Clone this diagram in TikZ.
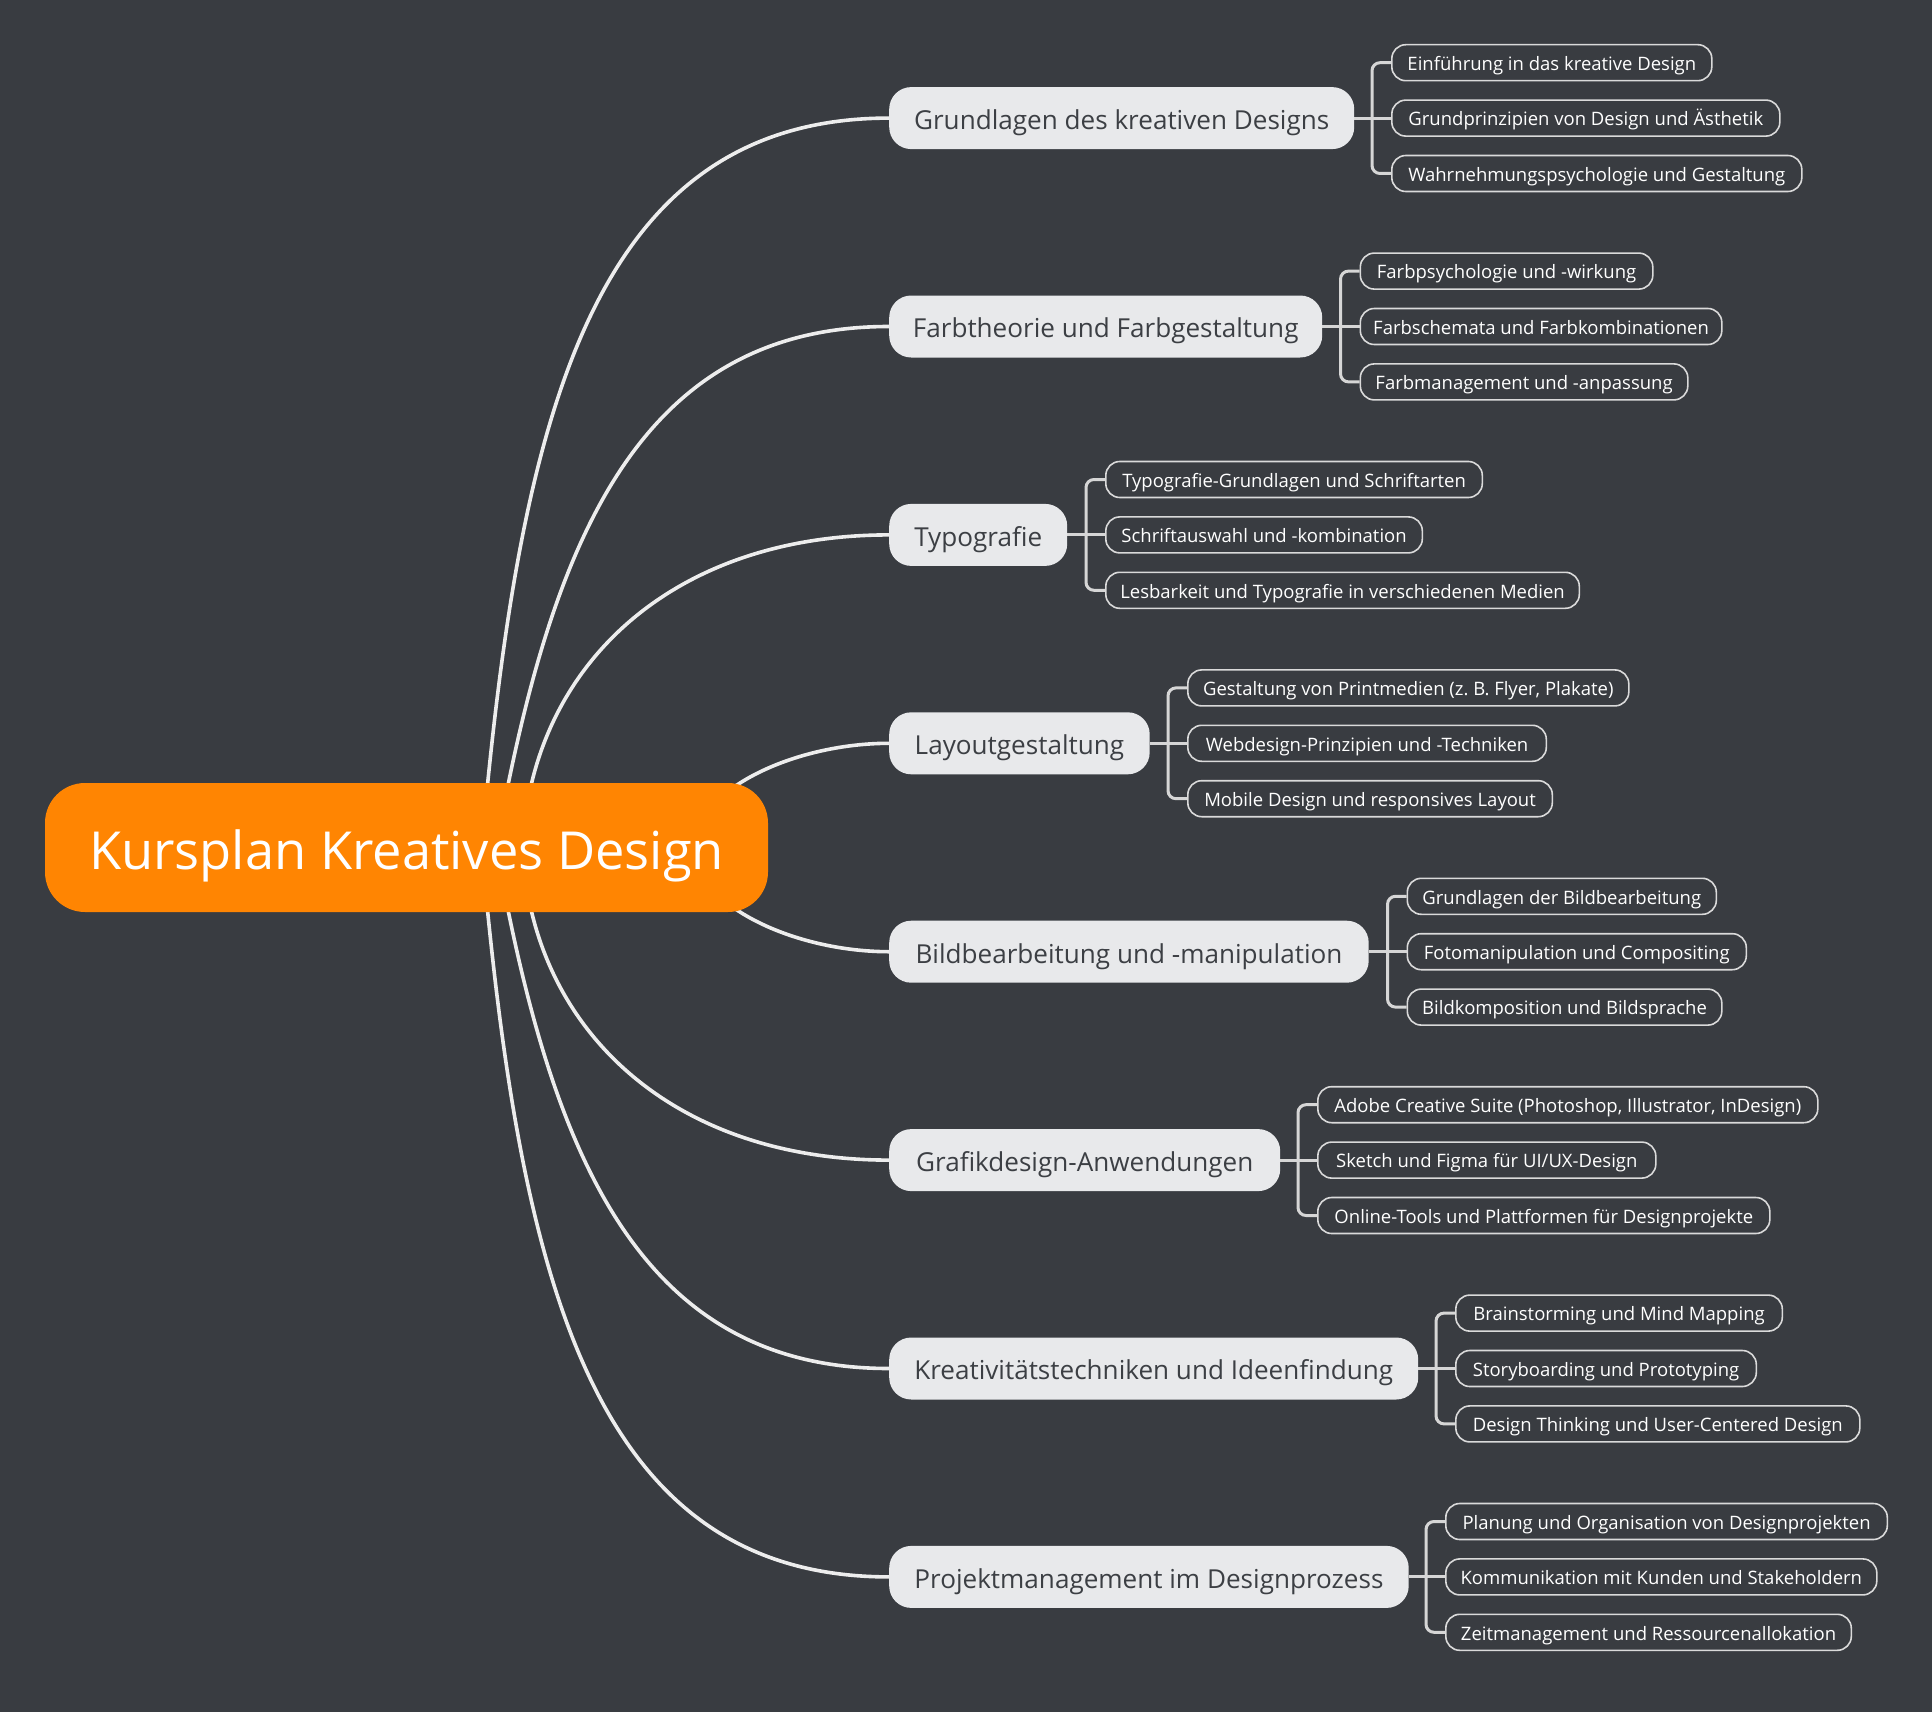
\documentclass[tikz,border=0pt]{standalone}
\usepackage{fontspec}
\setmainfont{Open Sans}
\usetikzlibrary{calc}
\definecolor{bgc}{HTML}{393C41}
\definecolor{rootc}{HTML}{FF8502}
\definecolor{mainfill}{HTML}{E8E9EB}
\definecolor{maintext}{HTML}{3C3F44}
\definecolor{subborder}{HTML}{DADADA}
\definecolor{curvec}{HTML}{EDEDED}
\definecolor{brkc}{HTML}{D6D6D6}
\pgfdeclarelayer{background}
\pgfsetlayers{background,main}
\begin{document}
\begin{tikzpicture}[x=1pt,y=-1pt,
  rootnode/.style={rectangle, rounded corners=40pt, fill=rootc, text=white, minimum width=723pt, minimum height=129pt, inner sep=0pt, text height=48pt, text depth=5pt, font=\frenchspacing\fontsize{52.4}{60}\selectfont},
  mnode/.style={rectangle, rounded corners=22pt, fill=mainfill, text=maintext, minimum height=62pt, inner sep=0pt, text height=25pt, text depth=2.4pt, anchor=west, font=\frenchspacing\fontsize{26.1}{30}\selectfont},
  sub/.style={rectangle, rounded corners=14pt, draw=subborder, line width=1.6pt, fill=bgc, text=white, minimum height=36pt, inner sep=0pt, text height=17pt, text depth=1.6pt, anchor=west, font=\frenchspacing\fontsize{18.5}{21}\selectfont},
  curve/.style={draw=curvec, line width=3.6pt},
  brk/.style={draw=brkc, line width=3pt, rounded corners=8pt}]
\useasboundingbox (0,0) rectangle (1932,1712);

\node[rootnode] (root) at (406.5,847.5) {Kursplan Kreatives Design};

\node[mnode, minimum width=465pt] (m1) at (889,118.1) {Grundlagen des kreativen Designs};
\node[mnode, minimum width=433pt] (m2) at (889,326.5) {Farbtheorie und Farbgestaltung};
\node[mnode, minimum width=178pt] (m3) at (889,534.9) {Typografie};
\node[mnode, minimum width=260.5pt] (m4) at (889,743.3) {Layoutgestaltung};
\node[mnode, minimum width=479.5pt] (m5) at (889,951.7) {Bildbearbeitung und -manipulation};
\node[mnode, minimum width=391pt] (m6) at (889,1160.1) {Grafikdesign-Anwendungen};
\node[mnode, minimum width=529pt] (m7) at (889,1368.5) {Kreativitätstechniken und Ideenfindung};
\node[mnode, minimum width=519.5pt] (m8) at (889,1576.9) {Projektmanagement im Designprozess};

% group 1
\node[sub, minimum width=320pt] (c11) at (1391,62.7) {Einführung in das kreative Design};
\node[sub, minimum width=388pt] (c12) at (1391,118.1) {Grundprinzipien von Design und Ästhetik};
\node[sub, minimum width=410pt] (c13) at (1391,173.5) {Wahrnehmungspsychologie und Gestaltung};
% group 2
\node[sub, minimum width=292.5pt] (c21) at (1359.5,271.1) {Farbpsychologie und -wirkung};
\node[sub, minimum width=361.5pt] (c22) at (1359.5,326.5) {Farbschemata und Farbkombinationen};
\node[sub, minimum width=327.5pt] (c23) at (1359.5,381.9) {Farbmanagement und -anpassung};
% group 3
\node[sub, minimum width=376.5pt] (c31) at (1105,479.5) {Typografie-Grundlagen und Schriftarten};
\node[sub, minimum width=316.5pt] (c32) at (1105,534.9) {Schriftauswahl und -kombination};
\node[sub, minimum width=473.5pt] (c33) at (1105,590.3) {Lesbarkeit und Typografie in verschiedenen Medien};
% group 4
\node[sub, minimum width=441pt] (c41) at (1187,687.9) {Gestaltung von Printmedien (z. B. Flyer, Plakate)};
\node[sub, minimum width=358.5pt] (c42) at (1187,743.3) {Webdesign-Prinzipien und -Techniken};
\node[sub, minimum width=364.5pt] (c43) at (1187,798.7) {Mobile Design und responsives Layout};
% group 5
\node[sub, minimum width=309pt] (c51) at (1406.5,896.3) {Grundlagen der Bildbearbeitung};
\node[sub, minimum width=339pt] (c52) at (1406.5,951.7) {Fotomanipulation und Compositing};
\node[sub, minimum width=314.5pt] (c53) at (1406.5,1007.1) {Bildkomposition und Bildsprache};
% group 6
\node[sub, minimum width=500pt] (c61) at (1317,1104.7) {Adobe Creative Suite (Photoshop, Illustrator, InDesign)};
\node[sub, minimum width=338pt] (c62) at (1317,1160.1) {Sketch und Figma für UI/UX-Design};
\node[sub, minimum width=452pt] (c63) at (1317,1215.5) {Online-Tools und Plattformen für Designprojekte};
% group 7
\node[sub, minimum width=326.5pt] (c71) at (1455,1313.1) {Brainstorming und Mind Mapping};
\node[sub, minimum width=300.5pt] (c72) at (1455,1368.5) {Storyboarding und Prototyping};
\node[sub, minimum width=404pt] (c73) at (1455,1423.9) {Design Thinking und User-Centered Design};
% group 8
\node[sub, minimum width=441.5pt] (c81) at (1445,1521.5) {Planung und Organisation von Designprojekten};
\node[sub, minimum width=431pt] (c82) at (1445,1576.9) {Kommunikation mit Kunden und Stakeholdern};
\node[sub, minimum width=405.5pt] (c83) at (1445,1632.3) {Zeitmanagement und Ressourcenallokation};

\begin{pgfonlayer}{background}
\fill[bgc] (0,0) rectangle (1932,1712);
% main curves
\draw[curve] ($(root.center)+(79.5,-47.5)$) .. controls ($(root.center)+(118.5,-447.5)$) and ($(m1.west)+(-289,0)$) .. (m1.west);
\draw[curve] ($(root.center)+(98.5,-47.5)$) .. controls ($(root.center)+(153.5,-325.5)$) and ($(m2.west)+(-239,0)$) .. (m2.west);
\draw[curve] ($(root.center)+(121.5,-47.5)$) .. controls ($(root.center)+(150.5,-203.2)$) and ($(m3.west)+(-198.5,0)$) .. (m3.west);
\draw[curve] ($(root.center)+(283.5,0)$) .. controls ($(root.center)+(293.5,-62.5)$) and ($(m4.west)+(-89,0)$) .. (m4.west);
\draw[curve] ($(root.center)+(283.5,0)$) .. controls ($(root.center)+(293.5,62.5)$) and ($(m5.west)+(-89,0)$) .. (m5.west);
\draw[curve] ($(root.center)+(121.5,47.5)$) .. controls ($(root.center)+(150.5,203.2)$) and ($(m6.west)+(-198.5,0)$) .. (m6.west);
\draw[curve] ($(root.center)+(98.5,47.5)$) .. controls ($(root.center)+(153.5,325.5)$) and ($(m7.west)+(-239,0)$) .. (m7.west);
\draw[curve] ($(root.center)+(79.5,47.5)$) .. controls ($(root.center)+(118.5,447.5)$) and ($(m8.west)+(-289,0)$) .. (m8.west);
% brackets
\foreach \g in {1,...,8}{
  \draw[brk] (m\g.east) -- (c\g2.west);
  \draw[brk] (c\g1.west) -- ++(-19,0) |- (c\g3.west);
}
\end{pgfonlayer}
\end{tikzpicture}
\end{document}
